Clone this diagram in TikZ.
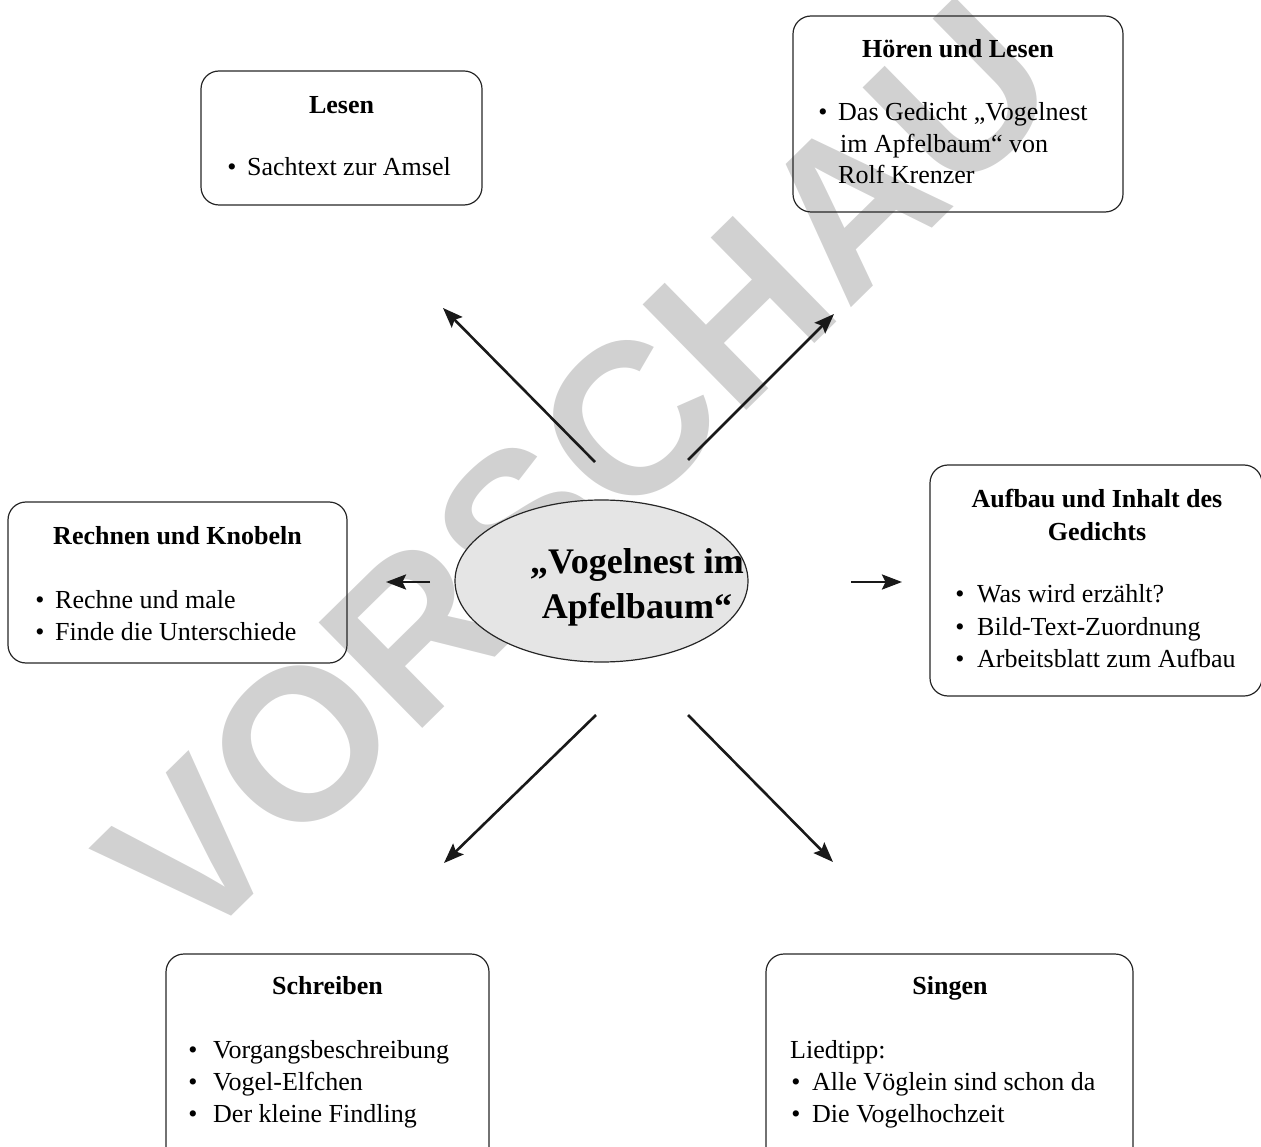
\documentclass[tikz,border=0pt]{standalone}
\usepackage{fontspec}
\setmainfont{Liberation Serif}
\newfontfamily\wmfont{Liberation Sans}
\usetikzlibrary{arrows.meta,shapes.geometric}
\begin{document}
\begin{tikzpicture}[x=1pt,y=-1pt,
  box/.style={draw=black!85, line width=1.2pt, rounded corners=18pt, inner sep=0pt},
  ttl/.style={font=\fontsize{26}{32}\selectfont\bfseries, anchor=base, inner sep=0pt},
  itm/.style={font=\fontsize{26}{32}\selectfont, anchor=base west, inner sep=0pt},
  bul/.style={font=\fontsize{26}{32}\selectfont, anchor=base, inner sep=0pt},
  arr/.style={line width=2.6pt, draw=black!90, -{Stealth[length=20pt,width=15pt,inset=3.5pt]}},
  wm/.style={font=\wmfont\fontsize{215}{215}\selectfont\bfseries, text=black!18, rotate=44.5}
]
\clip (0,0) rectangle (1261,1147);
% watermark
\node[wm] (wmark) at (578,472) {VORSCHAU};
% centre
\node[draw=black!85, line width=1.2pt, fill=black!10, ellipse, minimum width=293pt, minimum height=162pt] (centre) at (601.5,581) {};
\node[font=\fontsize{36}{45}\selectfont\bfseries, align=center, inner sep=0pt] (ctitle) at (637,587) {„Vogelnest im\\Apfelbaum“};
% boxes
\node[box, minimum width=281pt, minimum height=134pt] (lesen) at (341.5,138) {};
\node[box, minimum width=330pt, minimum height=196pt] (hoeren) at (958,114) {};
\node[box, minimum width=339pt, minimum height=161pt] (rechnen) at (177.5,582.5) {};
\node[box, minimum width=332pt, minimum height=231pt] (aufbau) at (1096,580.5) {};
\node[box, minimum width=323pt, minimum height=220pt] (schreiben) at (327.5,1064) {};
\node[box, minimum width=367pt, minimum height=220pt] (singen) at (949.5,1064) {};
% Lesen
\node[ttl] (t1) at (341.5,114) {Lesen};
\node[bul] (b11) at (232,176) {\textbullet};
\node[itm] (i11) at (247,176) {Sachtext zur Amsel};
% Hoeren
\node[ttl] (t2) at (958,58) {Hören und Lesen};
\node[bul] (b21) at (823,121) {\textbullet};
\node[itm] (i21) at (838,121) {Das Gedicht „Vogelnest};
\node[itm] (i22) at (840,153) {im Apfelbaum“ von};
\node[itm] (i23) at (838,184) {Rolf Krenzer};
% Rechnen
\node[ttl] (t3) at (177.5,544) {Rechnen und Knobeln};
\node[bul] (b31) at (40,608) {\textbullet};
\node[itm] (i31) at (55,608) {Rechne und male};
\node[bul] (b32) at (40,640) {\textbullet};
\node[itm] (i32) at (55,640) {Finde die Unterschiede};
% Aufbau
\node[ttl] (t4a) at (1097,507) {Aufbau und Inhalt des};
\node[ttl] (t4b) at (1097,540) {Gedichts};
\node[bul] (b41) at (960,602) {\textbullet};
\node[itm] (i41) at (977,602) {Was wird erzählt?};
\node[bul] (b42) at (960,635) {\textbullet};
\node[itm] (i42) at (977,635) {Bild-Text-Zuordnung};
\node[bul] (b43) at (960,667) {\textbullet};
\node[itm] (i43) at (977,667) {Arbeitsblatt zum Aufbau};
% Schreiben
\node[ttl] (t5) at (327.5,994) {Schreiben};
\node[bul] (b51) at (193,1058) {\textbullet};
\node[itm] (i51) at (213,1058) {Vorgangsbeschreibung};
\node[bul] (b52) at (193,1090) {\textbullet};
\node[itm] (i52) at (213,1090) {Vogel-Elfchen};
\node[bul] (b53) at (193,1122) {\textbullet};
\node[itm] (i53) at (213,1122) {Der kleine Findling};
% Singen
\node[ttl] (t6) at (950,994) {Singen};
\node[itm] (i60) at (790,1058) {Liedtipp:};
\node[bul] (b61) at (796,1090) {\textbullet};
\node[itm] (i61) at (812,1090) {Alle Vöglein sind schon da};
\node[bul] (b62) at (796,1122) {\textbullet};
\node[itm] (i62) at (812,1122) {Die Vogelhochzeit};
% arrows
\coordinate (sNW) at (595,462); \coordinate (eNW) at (443,308);
\coordinate (sNE) at (688,460); \coordinate (eNE) at (834,314);
\coordinate (sW) at (430,582);  \coordinate (eW) at (386,582);
\coordinate (sE) at (851,582);  \coordinate (eE) at (902,582);
\coordinate (sSW) at (596,715); \coordinate (eSW) at (444,863);
\coordinate (sSE) at (688,715); \coordinate (eSE) at (833,862);
\draw[arr] (sNW) -- (eNW);
\draw[arr] (sNE) -- (eNE);
\draw[arr] (sW) -- (eW);
\draw[arr] (sE) -- (eE);
\draw[arr] (sSW) -- (eSW);
\draw[arr] (sSE) -- (eSE);
\end{tikzpicture}
\end{document}
